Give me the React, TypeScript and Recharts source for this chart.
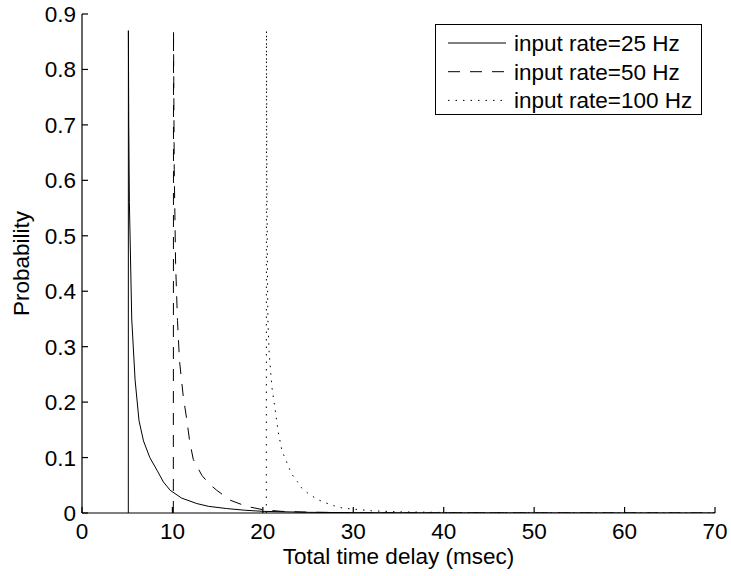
import React from 'react';
import { LineChart, Line, XAxis, YAxis, Legend, Label } from 'recharts';

const xTicks = [0, 10, 20, 30, 40, 50, 60, 70];
const yTicks = [0, 0.1, 0.2, 0.3, 0.4, 0.5, 0.6, 0.7, 0.8, 0.9];

const rate25 = [
  { x: 5.12, y: 0 }, { x: 5.13, y: 0.87 }, { x: 5.17, y: 0.7 }, { x: 5.24, y: 0.56 },
  { x: 5.5, y: 0.35 }, { x: 5.87, y: 0.24 }, { x: 6.3, y: 0.167 }, { x: 6.8, y: 0.13 },
  { x: 7.5, y: 0.1 }, { x: 8.3, y: 0.077 }, { x: 9.0, y: 0.056 }, { x: 9.75, y: 0.041 },
  { x: 11, y: 0.027 }, { x: 12.7, y: 0.017 }, { x: 14, y: 0.012 }, { x: 16, y: 0.008 },
  { x: 18, y: 0.005 }, { x: 20, y: 0.003 }, { x: 25, y: 0.0012 }, { x: 30, y: 0.0006 },
  { x: 40, y: 0.0002 }, { x: 70, y: 0 },
];

const rate50 = [
  { x: 10.1, y: 0 }, { x: 10.12, y: 0.87 }, { x: 10.2, y: 0.62 }, { x: 10.35, y: 0.45 },
  { x: 10.56, y: 0.347 }, { x: 10.78, y: 0.275 }, { x: 11.2, y: 0.21 }, { x: 11.6, y: 0.167 },
  { x: 11.9, y: 0.13 }, { x: 12.3, y: 0.097 }, { x: 13.25, y: 0.068 }, { x: 14.1, y: 0.052 },
  { x: 14.9, y: 0.041 }, { x: 16.4, y: 0.023 }, { x: 18.2, y: 0.012 }, { x: 20, y: 0.006 },
  { x: 22, y: 0.003 }, { x: 25, y: 0.0015 }, { x: 30, y: 0.0005 }, { x: 40, y: 0.0001 },
  { x: 70, y: 0 },
];

const rate100 = [
  { x: 20.38, y: 0 }, { x: 20.4, y: 0.87 }, { x: 20.45, y: 0.6 }, { x: 20.5, y: 0.45 },
  { x: 20.56, y: 0.347 }, { x: 20.7, y: 0.288 }, { x: 21.0, y: 0.227 }, { x: 21.45, y: 0.176 },
  { x: 21.7, y: 0.146 }, { x: 22.1, y: 0.113 }, { x: 22.8, y: 0.085 }, { x: 23.2, y: 0.07 },
  { x: 23.8, y: 0.057 }, { x: 24.3, y: 0.045 }, { x: 25.1, y: 0.034 }, { x: 26.1, y: 0.024 },
  { x: 27.0, y: 0.018 }, { x: 27.9, y: 0.013 }, { x: 28.8, y: 0.009 }, { x: 30, y: 0.007 },
  { x: 32, y: 0.004 }, { x: 35, y: 0.002 }, { x: 40, y: 0.001 }, { x: 50, y: 0.0003 },
  { x: 70, y: 0 },
];

const seriesNames = ['input rate=25 Hz', 'input rate=50 Hz', 'input rate=100 Hz'];
const seriesDash = [undefined, '12 10', '1.5 6'];
const seriesData = [rate25, rate50, rate100];

const FONT = '"Liberation Sans", Arial, Helvetica, sans-serif';
const FS = 22.5;

const renderLegend = () => (
  <div
    style={{
      width: 265,
      height: 89,
      border: '1px solid #000',
      background: '#fff',
      boxSizing: 'content-box',
    }}
  >
    <svg width={265} height={89} style={{ display: 'block' }}>
      {seriesNames.map((name, i) => (
        <g key={name}>
          <line
            x1={12}
            x2={70}
            y1={18 + i * 28.7}
            y2={18 + i * 28.7}
            stroke="#000"
            strokeWidth={1}
            strokeDasharray={seriesDash[i]}
          />
          <text
            x={78}
            y={18 + i * 28.7}
            dy="0.355em"
            fontFamily={FONT}
            fontSize={FS}
            fill="#000"
          >
            {name}
          </text>
        </g>
      ))}
    </svg>
  </div>
);

const xLabel = (props: any) => {
  const { viewBox } = props;
  return (
    <text
      x={viewBox.x + viewBox.width / 2}
      y={564}
      textAnchor="middle"
      fontFamily={FONT}
      fontSize={FS}
      fill="#000"
    >
      Total time delay (msec)
    </text>
  );
};

const yLabel = (props: any) => {
  const { viewBox } = props;
  const cy = viewBox.y + viewBox.height / 2;
  return (
    <text
      x={0}
      y={0}
      transform={`translate(29, ${cy}) rotate(-90)`}
      textAnchor="middle"
      fontFamily={FONT}
      fontSize={FS}
      fill="#000"
    >
      Probability
    </text>
  );
};

export default function App() {
  const tickStyle = { fontFamily: FONT, fontSize: FS, fill: '#000' };
  const axisStroke = { stroke: '#000', strokeWidth: 1.2 };
  return (
    <div style={{ position: 'absolute', left: 0, top: 0, background: '#fff' }}>
      <LineChart
        width={731}
        height={576}
        margin={{ top: 14, right: 16, left: 0, bottom: 0 }}
      >
        <XAxis
          xAxisId="b"
          type="number"
          dataKey="x"
          domain={[0, 70]}
          ticks={xTicks}
          allowDataOverflow
          height={63}
          tickSize={-6}
          tickMargin={16.3}
          tick={tickStyle}
          axisLine={axisStroke}
          tickLine={axisStroke}
        >
          <Label content={xLabel} />
        </XAxis>
        <XAxis
          xAxisId="t"
          orientation="top"
          type="number"
          dataKey="x"
          domain={[0, 70]}
          ticks={xTicks}
          height={0}
          tickSize={-6}
          tick={false}
          axisLine={axisStroke}
          tickLine={axisStroke}
        />
        <YAxis
          yAxisId="l"
          type="number"
          domain={[0, 0.9]}
          ticks={yTicks}
          allowDataOverflow
          width={82}
          tickSize={-6}
          tickMargin={12}
          tick={tickStyle}
          axisLine={axisStroke}
          tickLine={axisStroke}
        >
          <Label content={yLabel} />
        </YAxis>
        <YAxis
          yAxisId="r"
          orientation="right"
          type="number"
          domain={[0, 0.9]}
          ticks={yTicks}
          width={0}
          tickSize={-6}
          tick={false}
          axisLine={axisStroke}
          tickLine={axisStroke}
        />
        {seriesData.map((d, i) => (
          <Line
            key={seriesNames[i]}
            xAxisId="b"
            yAxisId="l"
            data={d}
            dataKey="y"
            name={seriesNames[i]}
            type="linear"
            stroke="#000"
            strokeWidth={1}
            strokeDasharray={seriesDash[i]}
            dot={false}
            activeDot={false}
            isAnimationActive={false}
          />
        ))}
        <Legend
          layout="horizontal"
          align="center"
          verticalAlign="middle"
          content={renderLegend}
          wrapperStyle={{ position: 'absolute', left: 435, top: 24, width: 'auto', height: 'auto' }}
        />
      </LineChart>
    </div>
  );
}
